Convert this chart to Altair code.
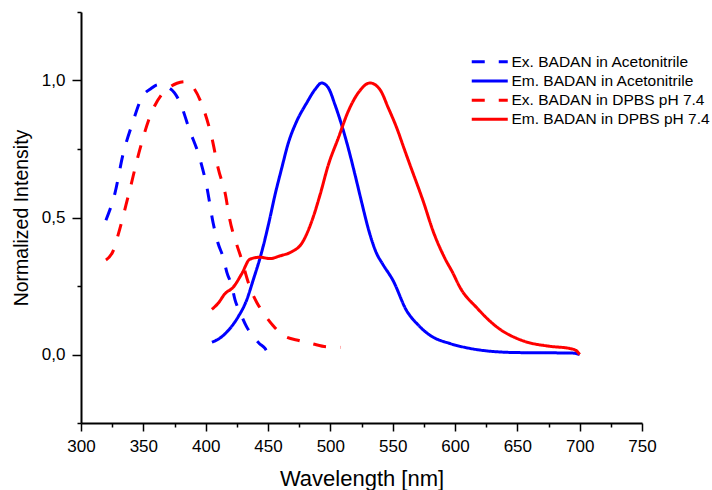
import altair as alt
import pandas as pd

# ---- data ----
ex_acn_x = [320, 327.3, 333.7, 341, 349, 356, 362, 366, 370, 375, 379.4, 387, 395, 401, 406, 410, 414, 417, 421, 423.5, 427.5, 433, 438, 443, 447.6, 450]
ex_acn_y = [0.49, 0.59, 0.73, 0.84, 0.94, 0.97, 0.985, 0.982, 0.975, 0.955, 0.92, 0.82, 0.72, 0.61, 0.48, 0.405, 0.355, 0.30, 0.25, 0.20, 0.155, 0.10, 0.066, 0.04, 0.022, 0.004]

em_acn_x = [405, 411.5, 419.5, 426, 433, 438, 444.4, 450.3, 455.6, 461, 466.3, 473, 481, 487.7, 493, 498.4, 503.7, 509, 514.4, 519.8, 525, 530.4, 537, 542, 550.3, 561.2, 570, 580, 596, 610, 622, 650, 680, 695, 700]
em_acn_y = [0.045, 0.06, 0.095, 0.137, 0.2, 0.27, 0.365, 0.473, 0.582, 0.68, 0.772, 0.851, 0.918, 0.967, 0.991, 0.973, 0.912, 0.839, 0.753, 0.656, 0.558, 0.46, 0.37, 0.33, 0.27, 0.16, 0.11, 0.07, 0.04, 0.024, 0.015, 0.007, 0.006, 0.005, 0.0]

ex_dpbs_x = [320, 326, 330, 338, 347.6, 355, 365, 371, 377, 383.4, 390, 398, 405, 410, 416, 419, 425, 429, 433, 435.5, 441, 446, 454, 462, 475.6, 485, 497, 508]
ex_dpbs_y = [0.345, 0.38, 0.44, 0.58, 0.755, 0.865, 0.95, 0.975, 0.99, 0.996, 0.975, 0.90, 0.79, 0.68, 0.58, 0.50, 0.40, 0.345, 0.28, 0.245, 0.19, 0.154, 0.106, 0.07, 0.05, 0.04, 0.028, 0.026]

em_dpbs_x = [405, 410, 415.5, 422, 429, 435.5, 443.6, 451.6, 459.6, 469, 477, 485, 491.7, 498.4, 506.4, 514.4, 522.4, 531.8, 539.8, 546.5, 553, 560, 563.9, 574.6, 582.6, 592, 598, 604, 617.6, 633.7, 654.5, 676, 692, 697, 700]
em_dpbs_y = [0.165, 0.187, 0.222, 0.245, 0.295, 0.348, 0.355, 0.35, 0.36, 0.375, 0.405, 0.485, 0.582, 0.692, 0.79, 0.888, 0.955, 0.991, 0.967, 0.9, 0.83, 0.741, 0.692, 0.558, 0.448, 0.35, 0.30, 0.245, 0.17, 0.10, 0.05, 0.03, 0.022, 0.015, 0.0]

series_names = ["Ex. BADAN in Acetonitrile", "Em. BADAN in Acetonitrile",
                "Ex. BADAN in DPBS pH 7.4", "Em. BADAN in DPBS pH 7.4"]
series_colors = ["#0000FF", "#0000FF", "#FF0000", "#FF0000"]
series_dash = [[13, 14], [1, 0], [13, 14], [1, 0]]

x_ticks = list(range(300, 751, 25))
y_ticks = [-0.25, 0, 0.25, 0.5, 0.75, 1.0, 1.25]

rows = []
for name, xs, ys in zip(series_names,
                        [ex_acn_x, em_acn_x, ex_dpbs_x, em_dpbs_x],
                        [ex_acn_y, em_acn_y, ex_dpbs_y, em_dpbs_y]):
    for i, (xv, yv) in enumerate(zip(xs, ys)):
        rows.append({"series": name, "wl": xv, "val": yv, "order": i})
df = pd.DataFrame(rows)

FONT = "Liberation Sans"

x_axis = alt.Axis(
    values=x_ticks,
    title="Wavelength [nm]",
    labelExpr="datum.value % 50 === 0 ? format(datum.value, 'd') : ''",
    tickSize={"condition": {"test": "datum.value % 50 === 0", "value": 8}, "value": 4},
    labelPadding=7, titlePadding=14, titleFontSize=22,
    grid=False, labelOverlap=False, labelFlush=False, labelBound=False,
)
y_axis = alt.Axis(
    values=y_ticks,
    title="Normalized Intensity",
    labelExpr="abs(datum.value*2 - round(datum.value*2)) < 0.001 ? replace(format(datum.value, '.1f'), '.', ',') : ''",
    tickSize={"condition": {"test": "abs(datum.value*2 - round(datum.value*2)) < 0.001", "value": 9}, "value": 4},
    labelPadding=7, titlePadding=10, titleFontSize=19.5,
    grid=False, labelOverlap=False, labelFlush=False, labelBound=False,
)

def make_legend():
    return alt.Legend(title=None, orient="none", legendX=401, legendY=42,
                      symbolType="M-3,0H3", symbolStrokeWidth=3, symbolSize=144,
                      symbolFillColor="transparent",
                      labelFont=FONT, labelFontSize=15.5, labelColor="black",
                      labelLimit=0, labelOffset=14, rowPadding=2.2)

chart = alt.Chart(df).mark_line(strokeWidth=3, clip=True, interpolate="monotone").encode(
    x=alt.X("wl:Q", scale=alt.Scale(domain=[300, 750], nice=False, zero=False), axis=x_axis),
    y=alt.Y("val:Q", scale=alt.Scale(domain=[-0.25, 1.25], nice=False, zero=False), axis=y_axis),
    color=alt.Color("series:N", scale=alt.Scale(domain=series_names, range=series_colors),
                    legend=make_legend()),
    strokeDash=alt.StrokeDash("series:N", scale=alt.Scale(domain=series_names, range=series_dash),
                              legend=make_legend()),
    detail="series:N",
    order="order:Q",
).properties(
    width=561, height=411,
    autosize=alt.AutoSizeParams(type="none"),
    padding={"left": 81, "top": 12, "right": 70, "bottom": 67},
    background="white",
).configure_view(stroke=None).configure_axis(
    domainColor="black", domainWidth=2, tickColor="black", tickWidth=1.5,
    labelFont=FONT, labelFontSize=17, labelColor="black",
    titleFont=FONT, titleFontWeight="normal", titleColor="black",
)

chart.save("out.html", embed_options={"renderer": "svg", "actions": False})
